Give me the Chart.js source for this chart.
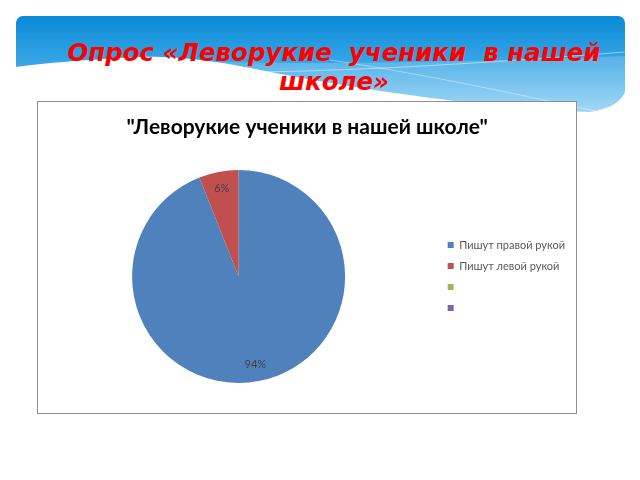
<!DOCTYPE html>
<html>
<head>
<meta charset="utf-8">
<script src="https://cdn.jsdelivr.net/npm/chart.js@4"></script>
<style>
  html, body { margin: 0; padding: 0; background: #fff; }
  #slide { position: relative; width: 640px; height: 480px; overflow: hidden; }
  #header { position: absolute; left: 0; top: 0; }
  #heading {
    position: absolute; left: 16px; top: 38px; width: 636px;
    text-align: center; white-space: pre;
    font: italic bold 24.5px/29px "DejaVu Sans", sans-serif;
    color: #ff0000;
  }
  #frame {
    position: absolute; left: 37px; top: 101px; width: 540px; height: 313px;
    box-sizing: border-box; border: 1.5px solid #8f8f8f; background: #fff;
  }
  #pieChart { position: absolute; left: 38px; top: 102px; }
</style>
</head>
<body>
<div id="slide">
  <svg id="header" width="640" height="130" viewBox="0 0 640 130">
    <defs>
      <clipPath id="hdrClip">
        <rect x="16" y="16" width="609" height="100" rx="7" ry="7"/>
      </clipPath>
      <linearGradient id="hdrGrad" x1="0" y1="16" x2="0" y2="115" gradientUnits="userSpaceOnUse">
        <stop offset="0" stop-color="#0a8ad7"/>
        <stop offset="0.45" stop-color="#35a5e6"/>
        <stop offset="1" stop-color="#92d2f5"/>
      </linearGradient>
    </defs>
    <g clip-path="url(#hdrClip)">
      <path d="M16,16 H625 V92 Q618,108 590,112 C500,110 360,90 260,70 C210,60 175,56 140,57 C95,59 45,63 16,67 Z" fill="url(#hdrGrad)"/>
      <path d="M170,60 C300,66 460,62 625,56 V120 H170 Z" fill="#ffffff" opacity="0.18"/>
      <path d="M260,72 C380,70 500,62 625,52" stroke="#ffffff" stroke-width="0.8" fill="none" opacity="0.6"/>
      <path d="M330,60 C430,75 520,95 600,112" stroke="#ffffff" stroke-width="0.8" fill="none" opacity="0.5"/>
    </g>
  </svg>
  <div id="heading">Опрос «Леворукие  ученики  в нашей
школе»</div>
  <div id="frame"></div>
  <canvas id="pieChart" width="538" height="311"></canvas>
</div>
<script>
// survey data
const categories = ['Пишут правой рукой', 'Пишут левой рукой', '', ''];
const percentValues = [94, 6, 0, 0];
const sliceColors = ['#4F81BD', '#C0504D', '#9BBB59', '#8064A2'];
const chartTitle = '"Леворукие ученики в нашей школе"';

Chart.defaults.font.family = 'Lato, "Noto Sans", sans-serif';

// draw "94%" style labels inside each slice
const sliceLabels = {
  id: 'sliceLabels',
  afterDatasetsDraw(chart) {
    const ctx = chart.ctx;
    const meta = chart.getDatasetMeta(0);
    ctx.save();
    ctx.font = '11px Lato, "Noto Sans", sans-serif';
    ctx.fillStyle = '#404040';
    ctx.textAlign = 'center';
    ctx.textBaseline = 'middle';
    meta.data.forEach((arc, i) => {
      const v = percentValues[i];
      if (!v) return;
      const p = arc.getProps(['x', 'y', 'startAngle', 'endAngle', 'outerRadius'], true);
      const mid = (p.startAngle + p.endAngle) / 2;
      const r = p.outerRadius * 0.84;
      ctx.fillText(v + '%', p.x + Math.cos(mid) * r, p.y + Math.sin(mid) * r);
    });
    ctx.restore();
  }
};

new Chart(document.getElementById('pieChart'), {
  type: 'pie',
  data: {
    labels: categories,
    datasets: [{
      data: percentValues,
      backgroundColor: sliceColors,
      borderWidth: 0
    }]
  },
  options: {
    responsive: false,
    animation: false,
    layout: {
      padding: { left: 1.5, right: 1, top: 0, bottom: 30 }
    },
    plugins: {
      title: {
        display: true,
        text: chartTitle,
        color: '#000',
        font: { size: 21, weight: 'bold' },
        padding: { top: 12.4, bottom: 30.4 }
      },
      legend: {
        position: 'right',
        fullSize: false,
        labels: {
          boxWidth: 6,
          boxHeight: 6,
          padding: 10,
          color: '#595959',
          font: { size: 11 }
        }
      },
      tooltip: { enabled: false }
    }
  },
  plugins: [sliceLabels]
});
</script>
</body>
</html>
